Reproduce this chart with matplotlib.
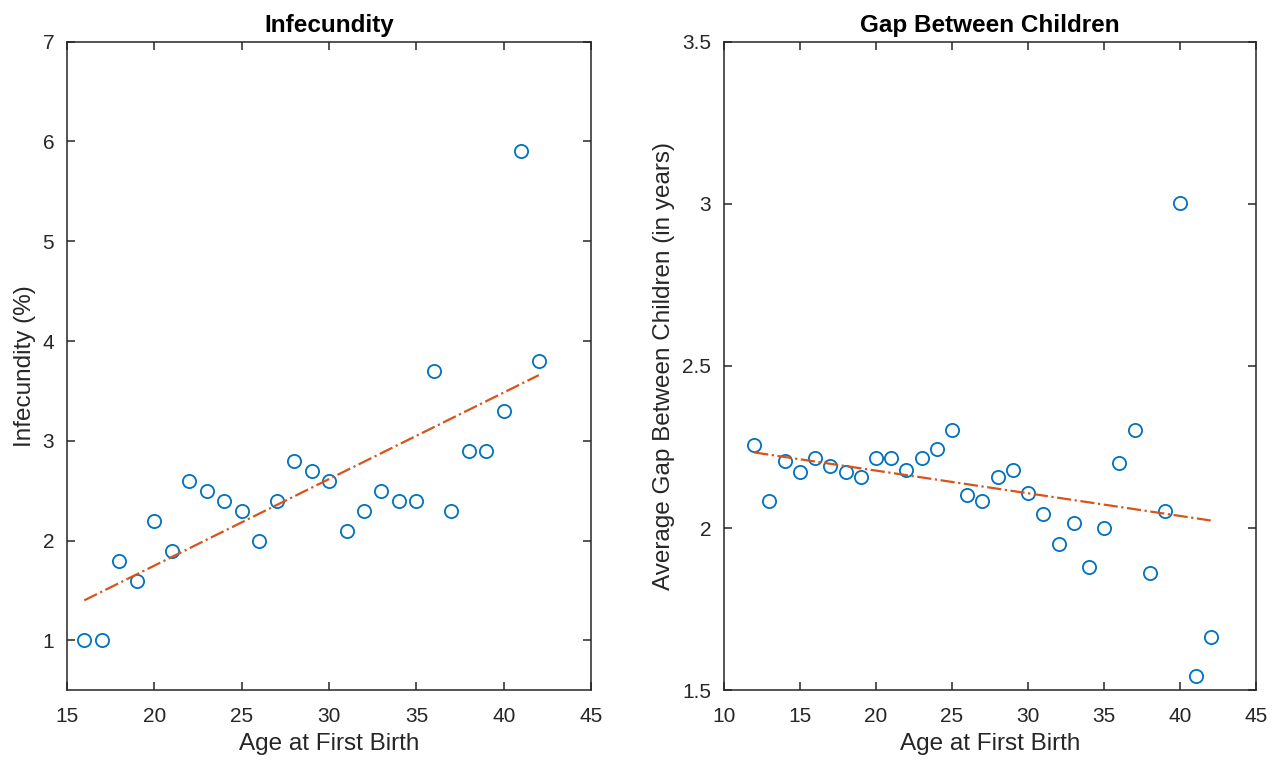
import numpy as np
import matplotlib.pyplot as plt

plt.rcParams["font.family"] = ["Liberation Sans", "DejaVu Sans"]

# infecundity (%) by age at first birth
age_inf = np.arange(16, 43)
infecundity = [1.0, 1.0, 1.8, 1.6, 2.2, 1.9, 2.6, 2.5, 2.4, 2.3, 2.0, 2.4, 2.8, 2.7,
               2.6, 2.1, 2.3, 2.5, 2.4, 2.4, 3.7, 2.3, 2.9, 2.9, 3.3, 5.9, 3.8]

# average gap between children (years) by age at first birth
age_gap = np.arange(12, 43)
gap = [2.256, 2.083, 2.208, 2.174, 2.216, 2.190, 2.174, 2.158, 2.216, 2.216, 2.179,
       2.216, 2.245, 2.302, 2.103, 2.083, 2.159, 2.179, 2.108, 2.042, 1.950, 2.016,
       1.879, 2.001, 2.200, 2.302, 1.863, 2.052, 3.002, 1.543, 1.665]

blue = "#0072BD"
orange = "#D95319"
ink = "#262626"

fig = plt.figure(figsize=(12.81, 7.64), dpi=100)
ax1 = fig.add_axes([0.0521, 0.0965, 0.4095, 0.849])
ax2 = fig.add_axes([0.565, 0.0965, 0.4158, 0.849])


def panel(ax, x, y, title, ylabel, xlim, ylim, yticks):
    x = np.asarray(x, dtype=float)
    y = np.asarray(y, dtype=float)
    ax.plot(x, y, "o", ms=9.5, mfc="none", mec=blue, mew=1.3)
    p = np.polyfit(x, y, 1)
    xf = np.array([x.min(), x.max()])
    ax.plot(xf, np.polyval(p, xf), "-.", color=orange, lw=1.6)
    ax.set_xlim(*xlim)
    ax.set_ylim(*ylim)
    ax.set_xticks(np.arange(xlim[0], xlim[1] + 1, 5))
    ax.set_yticks(yticks)
    ax.set_yticklabels([f"{v:g}" for v in yticks])
    ax.set_title(title, fontsize=17.5, fontweight="bold", color="black", pad=7)
    ax.set_xlabel("Age at First Birth", fontsize=17.5, color=ink, labelpad=5)
    ax.set_ylabel(ylabel, fontsize=17.5, color=ink, labelpad=5)
    ax.tick_params(direction="in", length=6, width=1.1, colors=ink, labelsize=15,
                   top=True, right=True)
    ax.tick_params(axis="x", pad=12)
    ax.tick_params(axis="y", pad=9)
    for s in ax.spines.values():
        s.set_color(ink)
        s.set_linewidth(1.1)


panel(ax1, age_inf, infecundity, "Infecundity", "Infecundity (%)",
      (15, 45), (0.5, 7), np.arange(1, 8))
panel(ax2, age_gap, gap, "Gap Between Children",
      "Average Gap Between Children (in years)",
      (10, 45), (1.5, 3.5), np.arange(1.5, 3.51, 0.5))

fig.savefig("out.png", dpi=100)
